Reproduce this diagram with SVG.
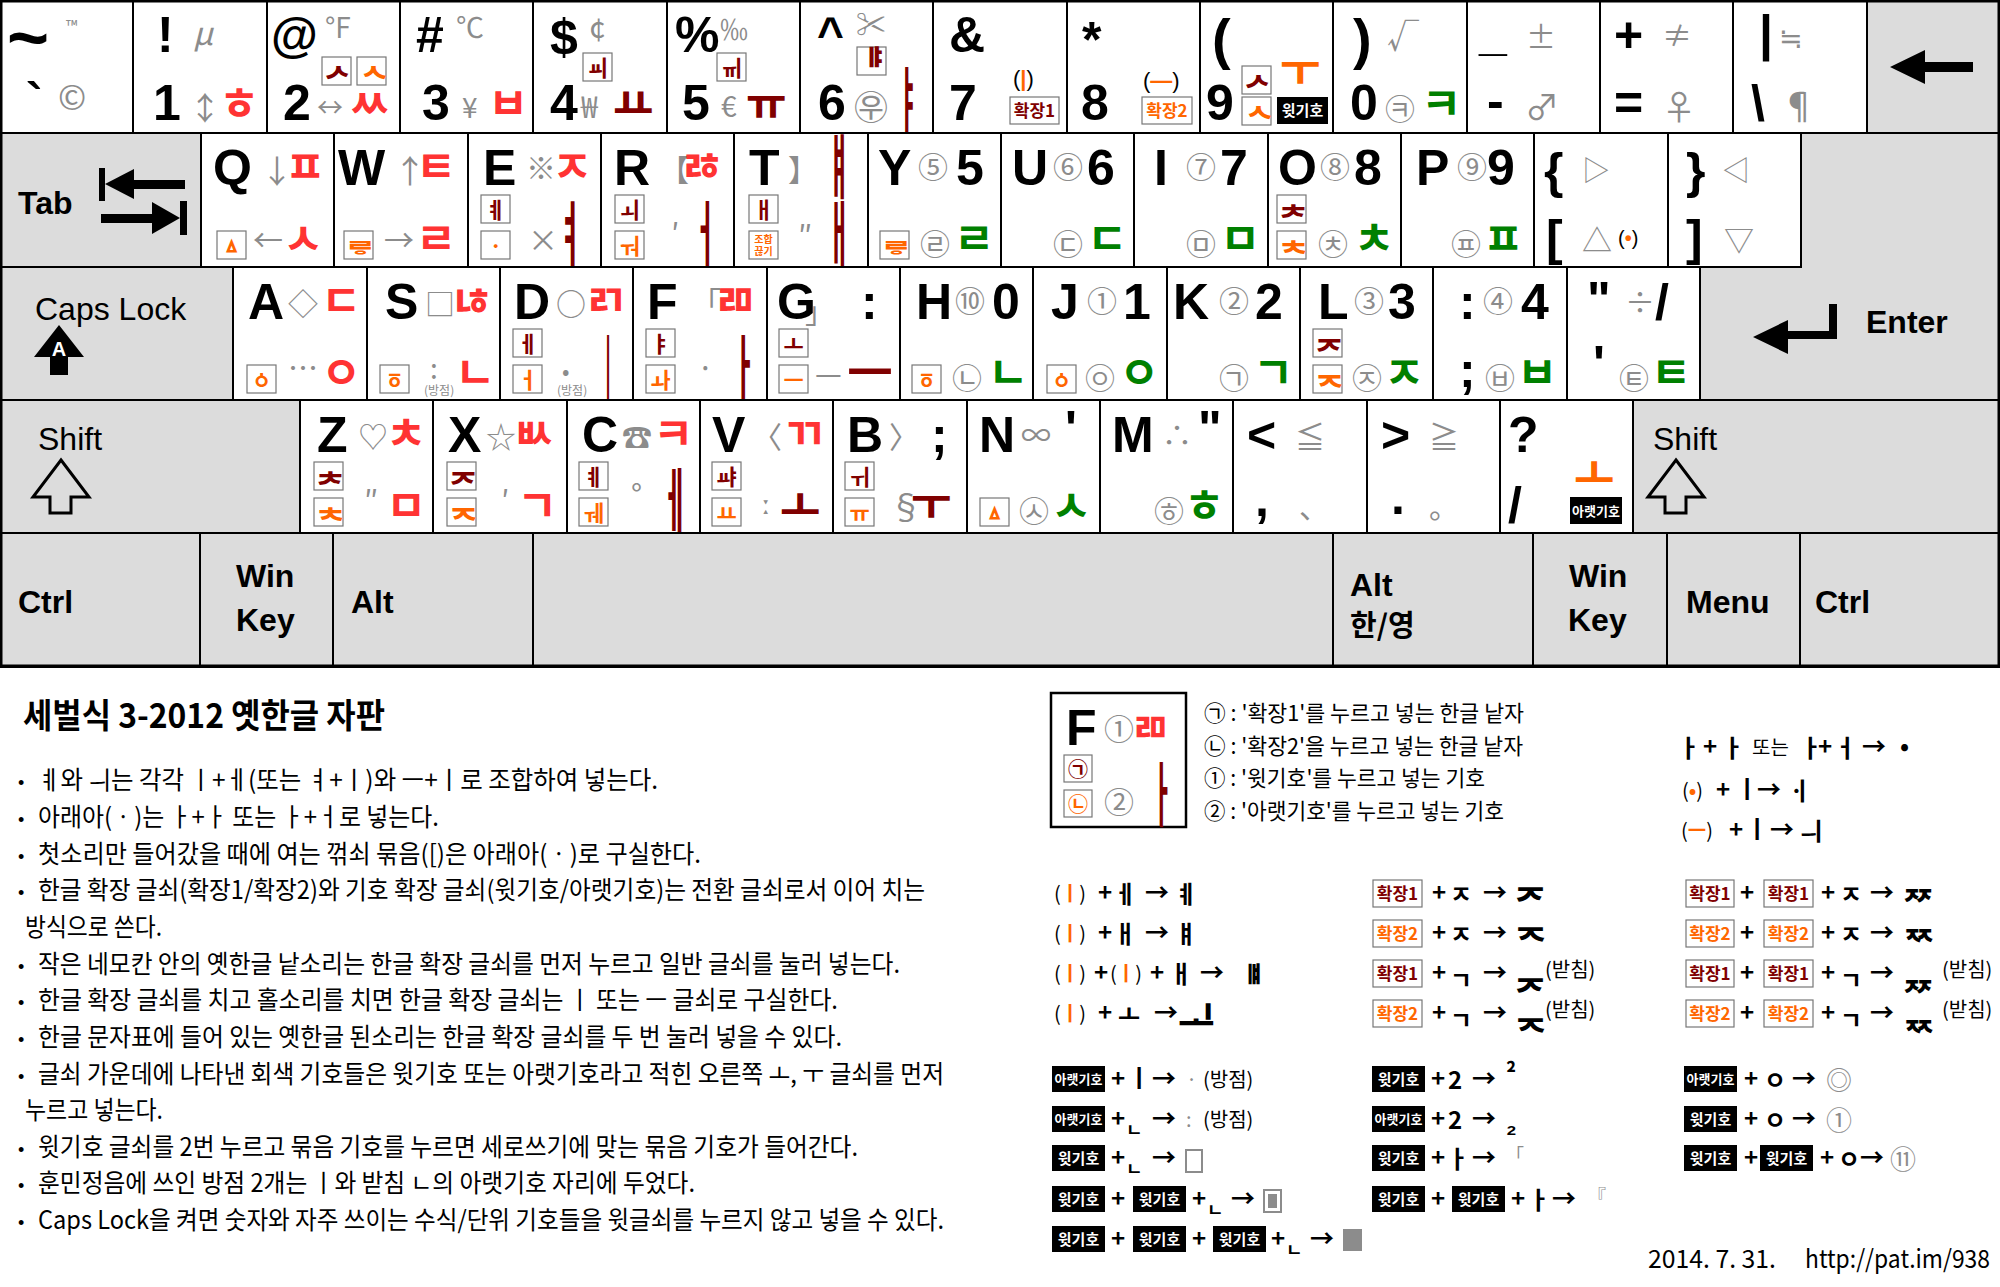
<svg xmlns="http://www.w3.org/2000/svg" width="2000" height="1287" viewBox="0 0 2000 1287">
<style>
text{font-family:"Liberation Sans","Noto Sans CJK KR",sans-serif}
.k{fill:#fff;stroke:#000;stroke-width:2}
.gk{fill:#dcdcdc;stroke:#000;stroke-width:2}
.B{font-size:50px;font-weight:bold;fill:#000}
.S{font-size:30px;fill:#8c8c8c;font-family:"Noto Sans CJK KR","DejaVu Sans",sans-serif}
.C{font-size:30px;fill:#8c8c8c;font-family:"Noto Sans CJK KR",sans-serif}
.J{font-size:44px;font-weight:bold;font-family:"Noto Sans CJK KR",sans-serif}
.T{font-size:70px;font-weight:bold;font-family:"Noto Sans CJK KR",sans-serif}
.r{fill:#ff3333}
.d{fill:#800000}
.g{fill:#008000}
.o{fill:#ff6600}
.w{fill:#fff}
.X{fill:#fff;stroke:#777;stroke-width:1.2}
.XJ{font-size:22px;font-weight:bold;font-family:"Noto Sans CJK KR",sans-serif;text-anchor:middle}
.XL{font-size:32px;font-weight:bold;font-family:"Noto Sans CJK KR",sans-serif;text-anchor:middle}
.XV{font-size:40px;font-weight:bold;font-family:"Noto Sans CJK KR",sans-serif;text-anchor:middle}
.lab{font-size:32px;font-weight:bold;fill:#000}
.lab2{font-size:32px;fill:#000}
.bk{fill:#000}
.bt{font-size:15px;font-weight:bold;fill:#fff;font-family:"Noto Sans CJK KR",sans-serif;text-anchor:middle}
.bt4{font-size:13px;font-weight:bold;fill:#fff;font-family:"Noto Sans CJK KR",sans-serif;text-anchor:middle}
.et{font-size:17px;font-weight:bold;font-family:"Noto Sans CJK KR",sans-serif;text-anchor:middle}
.P{font-size:22px;fill:#000}
.t{font-size:25px;fill:#000;font-family:"Noto Sans CJK KR",sans-serif}
.bl{font-size:18px;fill:#000}
.F{font-size:24px;font-weight:bold;fill:#000;font-family:"Noto Sans CJK KR",sans-serif}
.Fn{font-size:20px;fill:#000;font-family:"Noto Sans CJK KR",sans-serif}
.FC{font-size:36px;font-weight:bold;fill:#000;font-family:"Noto Sans CJK KR",sans-serif}
.FV{font-size:40px;font-weight:bold;fill:#000;font-family:"Noto Sans CJK KR",sans-serif}
.small{font-size:12px;fill:#8c8c8c;font-family:"Noto Sans CJK KR",sans-serif}
</style>

<!-- Row 1 -->
<g id="key-grave"><rect class="k" x="0" y="0" width="133" height="133"/>
<text class="B" x="7" y="62" style="font-size:72px">~</text><text class="S" x="66" y="32" style="font-size:16px">™</text>
<text class="B" x="26" y="118">`</text><text class="S" x="58" y="110" style="font-size:34px">©</text></g>
<g id="key-1" transform="translate(133,0)"><rect class="k" x="0" y="0" width="134" height="133"/>
<text class="B" x="24" y="52">!</text><text class="S" x="60" y="45" style="font-size:32px;font-style:italic">μ</text>
<text class="B" x="20" y="120">1</text><text class="S" x="56" y="120" style="font-size:32px">↕</text><text class="J r" x="86" y="120">ㅎ</text></g>
<g id="key-2" transform="translate(267,0)"><rect class="k" x="0" y="0" width="133" height="133"/>
<text class="B" x="4" y="52" style="font-size:48px">@</text><text class="S" x="58" y="38" style="font-size:28px">°F</text>
<rect class="X" x="55" y="57" width="29" height="28"/><text class="XL d" x="71.5" y="91.6">ᄼ</text>
<rect class="X" x="90" y="57" width="29" height="28"/><text class="XL o" x="106.5" y="91.6">ᄾ</text>
<text class="B" x="16" y="120">2</text><text class="S" x="50" y="117" style="font-size:26px">↔</text><text class="J r" x="82" y="120">ㅆ</text></g>
<g id="key-3" transform="translate(400,0)"><rect class="k" x="0" y="0" width="133" height="133"/>
<text class="B" x="16" y="52">#</text><text class="S" x="56" y="38" style="font-size:28px">℃</text>
<text class="B" x="22" y="120">3</text><text class="S" x="62" y="118" style="font-size:28px">¥</text><text class="J r" x="88" y="120">ㅂ</text></g>
<g id="key-4" transform="translate(533,0)"><rect class="k" x="0" y="0" width="134" height="133"/>
<text class="B" x="17" y="54">$</text><text class="S" x="56" y="40">¢</text>
<rect class="X" x="50" y="53" width="29" height="28"/><text class="XJ d" x="64.5" y="76">ㆉ</text>
<text class="B" x="17" y="120">4</text><text class="S" x="48" y="118">₩</text><text class="J d" x="80" y="120">ㅛ</text></g>
<g id="key-5" transform="translate(667,0)"><rect class="k" x="0" y="0" width="133" height="133"/>
<text class="B" x="8" y="52">%</text><text class="S" x="53" y="40" style="font-size:28px">‰</text>
<rect class="X" x="50" y="53" width="29" height="28"/><text class="XJ d" x="64.5" y="76">ㆌ</text>
<text class="B" x="15" y="120">5</text><text class="S" x="54" y="117" style="font-size:28px">€</text><text class="J d" x="79" y="120">ㅠ</text></g>
<g id="key-6" transform="translate(800,0)"><rect class="k" x="0" y="0" width="133" height="133"/>
<text class="B" x="17" y="50" style="font-size:46px">^</text><text class="S" x="56" y="35">✂</text>
<rect class="X" x="57" y="47" width="29" height="28"/><text class="XV d" x="65" y="80">ᆙ</text>
<text class="B" x="18" y="120">6</text><text class="C" x="54" y="120" style="font-size:34px">㉾</text><text class="T d" x="97" y="126" textLength="22" lengthAdjust="spacingAndGlyphs">ㅑ</text></g>
<g id="key-7" transform="translate(933,0)"><rect class="k" x="0" y="0" width="134" height="133"/>
<text class="B" x="16" y="52">&amp;</text><text class="B" x="16" y="120">7</text>
<text class="P" x="80" y="86">(<tspan class="o" font-weight="bold">|</tspan>)</text>
<rect class="X" x="77" y="97" width="49" height="27"/><text class="et d" x="101.5" y="117">확장1</text></g>
<g id="key-8" transform="translate(1067,0)"><rect class="k" x="0" y="0" width="133" height="133"/>
<text class="B" x="15" y="57">*</text><text class="B" x="14" y="120">8</text>
<text class="P" x="76" y="88">(<tspan class="o" font-weight="bold">—</tspan>)</text>
<rect class="X" x="75" y="97" width="50" height="27"/><text class="et o" x="100" y="117">확장2</text></g>
<g id="key-9" transform="translate(1200,0)"><rect class="k" x="0" y="0" width="133" height="133"/>
<text class="B" x="12" y="58" style="font-size:56px">(</text><text class="B" x="6" y="120">9</text>
<rect class="X" x="42" y="66" width="29" height="28"/><text class="XL d" x="58.5" y="100.6">ᄼ</text>
<rect class="X" x="42" y="97" width="29" height="28"/><text class="XL o" x="58.5" y="131.6">ᄾ</text>
<text class="J o" x="80" y="86">ㅜ</text>
<rect class="bk" x="77" y="97" width="51" height="27"/><text class="bt" x="102.5" y="116">윗기호</text></g>
<g id="key-0" transform="translate(1333,0)"><rect class="k" x="0" y="0" width="134" height="133"/>
<text class="B" x="20" y="58" style="font-size:56px">)</text><text class="S" x="54" y="48" style="font-size:32px">√</text>
<text class="B" x="17" y="120">0</text><text class="C" x="52" y="120">㉪</text><text class="J g" x="88" y="120">ㅋ</text></g>
<g id="key-minus" transform="translate(1467,0)"><rect class="k" x="0" y="0" width="133" height="133"/>
<text class="B" x="12" y="50">_</text><text class="S" x="59" y="48">±</text>
<text class="B" x="20" y="118">-</text><text class="S" x="58" y="120" style="font-size:34px">♂</text></g>
<g id="key-equal" transform="translate(1600,0)"><rect class="k" x="0" y="0" width="133" height="133"/>
<text class="B" x="14" y="52">+</text><text class="S" x="62" y="46">≠</text>
<text class="B" x="14" y="120">=</text><text class="S" x="62" y="120" style="font-size:34px">♀</text></g>
<g id="key-backslash" transform="translate(1733,0)"><rect class="k" x="0" y="0" width="134" height="133"/>
<text class="B" x="26" y="50">|</text><text class="S" x="46" y="48" style="font-size:28px">≒</text>
<text class="B" x="18" y="120">\</text><text class="S" x="48" y="120" style="font-size:36px">¶</text></g>
<g id="key-backspace" transform="translate(1867,0)"><rect class="gk" x="0" y="0" width="133" height="133"/>
<polygon points="23,67 58,50 58,62 106,62 106,72 58,72 58,84" fill="#000"/></g>

<!-- Row 2 -->
<g id="key-tab" transform="translate(0,133)"><rect class="gk" x="0" y="0" width="201" height="134"/>
<text class="lab" x="18" y="81">Tab</text>
<rect x="99" y="35" width="6" height="33" fill="#000"/><polygon points="105,51 134,36 134,66" fill="#000"/><rect x="132" y="47" width="53" height="9" fill="#000"/>
<rect x="101" y="81" width="55" height="9" fill="#000"/><polygon points="180,85 152,69 152,101" fill="#000"/><rect x="180" y="68" width="7" height="34" fill="#000"/></g>
<g id="key-q" transform="translate(201,133)"><rect class="k" x="0" y="0" width="133" height="134"/>
<text class="B" x="12" y="52">Q</text><text class="S" x="60" y="50" style="font-size:32px">↓</text><text class="J r" x="84" y="50">ㅍ</text>
<rect class="X" x="16" y="98" width="29" height="28"/><text class="XJ o" x="30.5" y="121">ㅿ</text>
<text class="S" x="52" y="118">←</text><text class="J r" x="82" y="122">ㅅ</text></g>
<g id="key-w" transform="translate(334,133)"><rect class="k" x="0" y="0" width="134" height="134"/>
<text class="B" x="4" y="52">W</text><text class="S" x="60" y="50" style="font-size:32px">↑</text><text class="J r" x="82" y="50">ㅌ</text>
<rect class="X" x="10" y="98" width="29" height="28"/><text class="XL o" x="26.5" y="132.6">ᄛ</text>
<text class="S" x="50" y="118">→</text><text class="J r" x="82" y="122">ㄹ</text></g>
<g id="key-e" transform="translate(468,133)"><rect class="k" x="0" y="0" width="133" height="134"/>
<text class="B" x="15" y="52">E</text><text class="S" x="58" y="46">※</text><text class="J r" x="84" y="50">ㅈ</text>
<rect class="X" x="13" y="62" width="29" height="28"/><text class="XJ d" x="27.5" y="85">ㅖ</text>
<rect class="X" x="13" y="98" width="29" height="28"/><text class="XJ o" x="27.5" y="121">ㆍ</text>
<text class="S" x="60" y="118">×</text><text class="T d" x="89" y="127" textLength="26" lengthAdjust="spacingAndGlyphs">ㅕ</text></g>
<g id="key-r" transform="translate(601,133)"><rect class="k" x="0" y="0" width="133" height="134"/>
<text class="B" x="13" y="52">R</text><text class="S" x="58" y="48">【</text><text class="J r" x="80" y="50">ㅀ</text>
<rect class="X" x="14" y="62" width="29" height="28"/><text class="XJ d" x="28.5" y="85">ㅚ</text>
<rect class="X" x="14" y="98" width="29" height="28"/><text class="XJ o" x="28.5" y="121">ㅝ</text>
<text class="S" x="70" y="112">′</text><text class="T d" x="92" y="127" textLength="24" lengthAdjust="spacingAndGlyphs">ㅓ</text></g>
<g id="key-t" transform="translate(734,133)"><rect class="k" x="0" y="0" width="134" height="134"/>
<text class="B" x="15" y="52">T</text><text class="S" x="54" y="48">】</text>
<text class="T d" x="93" y="60" textLength="24" lengthAdjust="spacingAndGlyphs">ㅒ</text>
<rect class="X" x="15" y="62" width="29" height="28"/><text class="XJ d" x="29.5" y="85">ㅐ</text>
<rect class="X" x="15" y="98" width="29" height="28"/><text class="XJ o" x="29.5" y="110" style="font-size:10px">조합</text><text class="XJ o" x="29.5" y="122" style="font-size:10px">끊기</text>
<text class="S" x="64" y="114">″</text><text class="T d" x="93" y="127" textLength="24" lengthAdjust="spacingAndGlyphs">ㅐ</text></g>
<g id="key-y" transform="translate(868,133)"><rect class="k" x="0" y="0" width="133" height="134"/>
<text class="B" x="10" y="52">Y</text><text class="C" x="50" y="45">⑤</text><text class="B" x="88" y="52">5</text>
<rect class="X" x="12" y="98" width="29" height="28"/><text class="XL o" x="28.5" y="132.6">ᄛ</text>
<text class="C" x="52" y="122">㉣</text><text class="J g" x="86" y="122">ㄹ</text></g>
<g id="key-u" transform="translate(1001,133)"><rect class="k" x="0" y="0" width="133" height="134"/>
<text class="B" x="11" y="52">U</text><text class="C" x="52" y="45">⑥</text><text class="B" x="86" y="52">6</text>
<text class="C" x="52" y="122">㉢</text><text class="J g" x="86" y="122">ㄷ</text></g>
<g id="key-i" transform="translate(1134,133)"><rect class="k" x="0" y="0" width="134" height="134"/>
<text class="B" x="20" y="52">I</text><text class="C" x="52" y="45">⑦</text><text class="B" x="86" y="52">7</text>
<text class="C" x="52" y="122">㉤</text><text class="J g" x="86" y="122">ㅁ</text></g>
<g id="key-o" transform="translate(1268,133)"><rect class="k" x="0" y="0" width="133" height="134"/>
<text class="B" x="10" y="52">O</text><text class="C" x="52" y="45">⑧</text><text class="B" x="86" y="52">8</text>
<rect class="X" x="9" y="62" width="29" height="28"/><text class="XL d" x="25.5" y="96.6">ᅔ</text>
<rect class="X" x="9" y="98" width="29" height="28"/><text class="XL o" x="25.5" y="132.6">ᅕ</text>
<text class="C" x="50" y="122">㉩</text><text class="J g" x="86" y="122">ㅊ</text></g>
<g id="key-p" transform="translate(1401,133)"><rect class="k" x="0" y="0" width="133" height="134"/>
<text class="B" x="15" y="52">P</text><text class="C" x="56" y="45">⑨</text><text class="B" x="86" y="52">9</text>
<text class="C" x="50" y="122">㉬</text><text class="J g" x="82" y="122">ㅍ</text></g>
<g id="key-lbrace" transform="translate(1534,133)"><rect class="k" x="0" y="0" width="134" height="134"/>
<text class="B" x="10" y="55">{</text><text class="S" x="48" y="48" style="font-size:28px">▷</text>
<text class="B" x="12" y="122">[</text><text class="S" x="48" y="118">△</text>
<text class="P" x="84" y="112" style="font-size:20px">(<tspan class="o" font-weight="bold">•</tspan>)</text></g>
<g id="key-rbrace" transform="translate(1668,133)"><rect class="k" x="0" y="0" width="133" height="134"/>
<text class="B" x="18" y="55">}</text><text class="S" x="54" y="48" style="font-size:28px">◁</text>
<text class="B" x="18" y="122">]</text><text class="S" x="56" y="118">▽</text></g>
<g id="key-enter"><path class="gk" d="M1801,133 H2000 V400 H1700 V267 H1801 Z"/>
<polygon points="1753,337 1788,320 1788,331 1829,331 1829,304 1837,304 1837,339 1788,339 1788,354" fill="#000"/>
<text class="lab" x="1866" y="333">Enter</text></g>

<!-- Row 3 -->
<g id="key-caps" transform="translate(0,267)"><rect class="gk" x="0" y="0" width="233" height="133"/>
<text class="lab2" x="35" y="53">Caps Lock</text>
<polygon points="59,58 84,90 68,90 68,108 50,108 50,90 34,90" fill="#000"/>
<text x="59" y="89" class="w" text-anchor="middle" style="font-size:20px;font-weight:bold">A</text></g>
<g id="key-a" transform="translate(233,267)"><rect class="k" x="0" y="0" width="134" height="133"/>
<text class="B" x="15" y="52">A</text><text class="S" x="55" y="48">◇</text><text class="J r" x="88" y="50">ㄷ</text>
<rect class="X" x="14" y="98" width="29" height="28"/><text class="XJ o" x="28.5" y="121">ㆁ</text>
<text class="S" x="55" y="112">⋯</text><text class="J r" x="88" y="122">ㅇ</text></g>
<g id="key-s" transform="translate(367,267)"><rect class="k" x="0" y="0" width="133" height="133"/>
<text class="B" x="18" y="52">S</text><text class="S" x="58" y="48">□</text><text class="J r" x="85" y="50">ㄶ</text>
<rect class="X" x="13" y="98" width="29" height="28"/><text class="XJ o" x="27.5" y="121">ㆆ</text>
<text class="S" x="63" y="112" style="font-size:28px">:</text><text class="small" x="57" y="128">(방점)</text><text class="J r" x="88" y="122">ㄴ</text></g>
<g id="key-d" transform="translate(500,267)"><rect class="k" x="0" y="0" width="133" height="133"/>
<text class="B" x="14" y="52">D</text><text class="S" x="56" y="48">○</text><text class="J r" x="86" y="50">ㄺ</text>
<rect class="X" x="13" y="62" width="29" height="28"/><text class="XJ d" x="27.5" y="85">ㅔ</text>
<rect class="X" x="13" y="98" width="29" height="28"/><text class="XJ o" x="27.5" y="121">ㅓ</text>
<text class="S" x="62" y="112" style="font-size:22px">•</text><text class="small" x="57" y="128">(방점)</text>
<text class="T d" x="101" y="127" textLength="14" lengthAdjust="spacingAndGlyphs">ㅣ</text></g>
<g id="key-f" transform="translate(633,267)"><rect class="k" x="0" y="0" width="134" height="133"/>
<text class="B" x="14" y="52">F</text><text class="S" x="58" y="46">「</text><text class="J r" x="82" y="50">ㄻ</text>
<rect class="X" x="13" y="62" width="29" height="28"/><text class="XJ d" x="27.5" y="85">ㅑ</text>
<rect class="X" x="13" y="98" width="29" height="28"/><text class="XJ o" x="27.5" y="121">ㅘ</text>
<text class="S" x="64" y="112">·</text><text class="T d" x="99" y="127" textLength="24" lengthAdjust="spacingAndGlyphs">ㅏ</text></g>
<g id="key-g" transform="translate(767,267)"><rect class="k" x="0" y="0" width="133" height="133"/>
<text class="B" x="10" y="52">G</text><text class="S" x="38" y="56">」</text><text class="B" x="94" y="52">:</text>
<rect class="X" x="12" y="62" width="29" height="28"/><text class="XJ d" x="26.5" y="85">ㅗ</text>
<rect class="X" x="12" y="98" width="29" height="28"/><text class="XJ o" x="26.5" y="121">ㅡ</text>
<text class="S" x="48" y="117">—</text><text class="J d" x="80" y="124" style="font-size:50px">ㅡ</text></g>
<g id="key-h" transform="translate(900,267)"><rect class="k" x="0" y="0" width="133" height="133"/>
<text class="B" x="16" y="52">H</text><text class="C" x="55" y="45">⑩</text><text class="B" x="92" y="52">0</text>
<rect class="X" x="12" y="98" width="29" height="28"/><text class="XJ o" x="26.5" y="121">ㆆ</text>
<text class="C" x="52" y="122">㉡</text><text class="J g" x="88" y="122">ㄴ</text></g>
<g id="key-j" transform="translate(1033,267)"><rect class="k" x="0" y="0" width="134" height="133"/>
<text class="B" x="18" y="52">J</text><text class="C" x="54" y="45">①</text><text class="B" x="90" y="52">1</text>
<rect class="X" x="14" y="98" width="29" height="28"/><text class="XJ o" x="28.5" y="121">ㆁ</text>
<text class="C" x="52" y="122">㉧</text><text class="J g" x="86" y="122">ㅇ</text></g>
<g id="key-k" transform="translate(1167,267)"><rect class="k" x="0" y="0" width="133" height="133"/>
<text class="B" x="6" y="52">K</text><text class="C" x="52" y="45">②</text><text class="B" x="88" y="52">2</text>
<text class="C" x="52" y="122">㉠</text><text class="J g" x="86" y="122">ㄱ</text></g>
<g id="key-l" transform="translate(1300,267)"><rect class="k" x="0" y="0" width="133" height="133"/>
<text class="B" x="18" y="52">L</text><text class="C" x="54" y="45">③</text><text class="B" x="88" y="52">3</text>
<rect class="X" x="13" y="62" width="29" height="28"/><text class="XL d" x="29.5" y="96.6">ᅎ</text>
<rect class="X" x="13" y="98" width="29" height="28"/><text class="XL o" x="29.5" y="132.6">ᅐ</text>
<text class="C" x="52" y="122">㉨</text><text class="J g" x="84" y="122">ㅈ</text></g>
<g id="key-semicolon" transform="translate(1433,267)"><rect class="k" x="0" y="0" width="134" height="133"/>
<text class="B" x="26" y="52">:</text><text class="C" x="50" y="45">④</text><text class="B" x="88" y="52">4</text>
<text class="B" x="26" y="120">;</text><text class="C" x="52" y="122">㉥</text><text class="J g" x="84" y="122">ㅂ</text></g>
<g id="key-quote" transform="translate(1567,267)"><rect class="k" x="0" y="0" width="133" height="133"/>
<text class="B" x="20" y="50">"</text><text class="S" x="58" y="46">÷</text><text class="B" x="88" y="52">/</text>
<text class="B" x="26" y="114">'</text><text class="C" x="52" y="122">㉫</text><text class="J g" x="84" y="122">ㅌ</text></g>

<!-- Row 4 -->
<g id="key-lshift" transform="translate(0,400)"><rect class="gk" x="0" y="0" width="300" height="133"/>
<text class="lab2" x="38" y="50">Shift</text>
<polygon points="61,60 89,97 71,97 71,113 50,113 50,97 33,97" fill="none" stroke="#000" stroke-width="3"/></g>
<g id="key-z" transform="translate(300,400)"><rect class="k" x="0" y="0" width="133" height="133"/>
<text class="B" x="17" y="52">Z</text><text class="S" x="58" y="48">♡</text><text class="J r" x="86" y="50">ㅊ</text>
<rect class="X" x="14" y="62" width="29" height="28"/><text class="XL d" x="30.5" y="96.6">ᅔ</text>
<rect class="X" x="14" y="98" width="29" height="28"/><text class="XL o" x="30.5" y="132.6">ᅕ</text>
<text class="S" x="64" y="112">″</text><text class="J r" x="86" y="122">ㅁ</text></g>
<g id="key-x" transform="translate(433,400)"><rect class="k" x="0" y="0" width="134" height="133"/>
<text class="B" x="15" y="52">X</text><text class="S" x="53" y="48">☆</text><text class="J r" x="80" y="50">ㅄ</text>
<rect class="X" x="14" y="62" width="29" height="28"/><text class="XL d" x="30.5" y="96.6">ᅎ</text>
<rect class="X" x="14" y="98" width="29" height="28"/><text class="XL o" x="30.5" y="132.6">ᅐ</text>
<text class="S" x="68" y="112">′</text><text class="J r" x="84" y="122">ㄱ</text></g>
<g id="key-c" transform="translate(567,400)"><rect class="k" x="0" y="0" width="133" height="133"/>
<text class="B" x="15" y="52">C</text><text class="S" x="55" y="48">☎</text><text class="J r" x="86" y="50">ㅋ</text>
<rect class="X" x="12" y="62" width="29" height="28"/><text class="XJ d" x="26.5" y="85">ㅖ</text>
<rect class="X" x="12" y="98" width="29" height="28"/><text class="XJ o" x="26.5" y="121">ㅞ</text>
<text class="S" x="64" y="106">°</text><text class="T d" x="95" y="127" textLength="26" lengthAdjust="spacingAndGlyphs">ㅔ</text></g>
<g id="key-v" transform="translate(700,400)"><rect class="k" x="0" y="0" width="133" height="133"/>
<text class="B" x="12" y="52">V</text><text class="S" x="52" y="48">〈</text><text class="J r" x="84" y="50">ㄲ</text>
<rect class="X" x="12" y="62" width="29" height="28"/><text class="XJ d" x="26.5" y="85">ㆇ</text>
<rect class="X" x="12" y="98" width="29" height="28"/><text class="XJ o" x="26.5" y="121">ㅛ</text>
<text class="S" x="62" y="114" style="font-size:26px">ː</text><text class="J d" x="80" y="122">ㅗ</text></g>
<g id="key-b" transform="translate(833,400)"><rect class="k" x="0" y="0" width="134" height="133"/>
<text class="B" x="14" y="52">B</text><text class="S" x="56" y="48">〉</text><text class="B" x="98" y="52">;</text>
<rect class="X" x="12" y="62" width="29" height="28"/><text class="XJ d" x="26.5" y="85">ㅟ</text>
<rect class="X" x="12" y="98" width="29" height="28"/><text class="XJ o" x="26.5" y="121">ㅠ</text>
<text class="S" x="56" y="120" style="font-size:34px">§</text><text class="J d" x="78" y="120">ㅜ</text></g>
<g id="key-n" transform="translate(967,400)"><rect class="k" x="0" y="0" width="133" height="133"/>
<text class="B" x="12" y="52">N</text><text class="S" x="54" y="46">∞</text><text class="B" x="98" y="46">'</text>
<rect class="X" x="13" y="98" width="29" height="28"/><text class="XJ o" x="27.5" y="121">ㅿ</text>
<text class="C" x="52" y="122">㉦</text><text class="J g" x="84" y="122">ㅅ</text></g>
<g id="key-m" transform="translate(1100,400)"><rect class="k" x="0" y="0" width="133" height="133"/>
<text class="B" x="12" y="52">M</text><text class="S" x="62" y="46">∴</text><text class="B" x="98" y="46">"</text>
<text class="C" x="54" y="122">㉭</text><text class="J g" x="84" y="122">ㅎ</text></g>
<g id="key-comma" transform="translate(1233,400)"><rect class="k" x="0" y="0" width="134" height="133"/>
<text class="B" x="14" y="52">&lt;</text><text class="S" x="62" y="48">≦</text>
<text class="B" x="22" y="116">,</text><text class="S" x="66" y="118">、</text></g>
<g id="key-period" transform="translate(1367,400)"><rect class="k" x="0" y="0" width="133" height="133"/>
<text class="B" x="14" y="52">&gt;</text><text class="S" x="62" y="48">≧</text>
<text class="B" x="24" y="114">.</text><text class="S" x="62" y="118">。</text></g>
<g id="key-slash" transform="translate(1500,400)"><rect class="k" x="0" y="0" width="133" height="133"/>
<text class="B" x="8" y="52">?</text><text class="B" x="8" y="122">/</text>
<text class="J o" x="74" y="90">ㅗ</text>
<rect class="bk" x="70" y="97" width="52" height="27"/><text class="bt4" x="96" y="116">아랫기호</text></g>
<g id="key-rshift" transform="translate(1633,400)"><rect class="gk" x="0" y="0" width="367" height="133"/>
<text class="lab2" x="20" y="50">Shift</text>
<polygon points="43,60 71,97 53,97 53,113 32,113 32,97 15,97" fill="none" stroke="#000" stroke-width="3"/></g>

<!-- Row 5 -->
<g id="key-lctrl"><rect class="gk" x="0" y="533" width="200" height="134"/><text class="lab" x="18" y="613">Ctrl</text></g>
<g id="key-lwin"><rect class="gk" x="200" y="533" width="133" height="134"/><text class="lab" x="236" y="587">Win</text><text class="lab" x="236" y="631">Key</text></g>
<g id="key-lalt"><rect class="gk" x="333" y="533" width="200" height="134"/><text class="lab" x="351" y="613">Alt</text></g>
<g id="key-space"><rect class="gk" x="533" y="533" width="800" height="134"/></g>
<g id="key-ralt"><rect class="gk" x="1333" y="533" width="200" height="134"/><text class="lab" x="1350" y="596">Alt</text><text class="lab" x="1350" y="636" style="font-family:'Noto Sans CJK KR',sans-serif;font-size:29px">한/영</text></g>
<g id="key-rwin"><rect class="gk" x="1533" y="533" width="134" height="134"/><text class="lab" x="1569" y="587">Win</text><text class="lab" x="1568" y="631">Key</text></g>
<g id="key-menu"><rect class="gk" x="1667" y="533" width="133" height="134"/><text class="lab" x="1686" y="613">Menu</text></g>
<g id="key-rctrl"><rect class="gk" x="1800" y="533" width="200" height="134"/><text class="lab" x="1815" y="613">Ctrl</text></g>
<rect x="1" y="1" width="1998" height="665" fill="none" stroke="#000" stroke-width="3"/>

<!-- Notes -->
<g id="notes">
<text x="23" y="728" style="font-size:34px;font-weight:bold;font-family:'Noto Sans CJK KR',sans-serif" textLength="362" lengthAdjust="spacingAndGlyphs">세벌식 3-2012 옛한글 자판</text>
<text class="bl" x="18" y="789">•</text><text class="t" x="38" y="789" textLength="620" lengthAdjust="spacingAndGlyphs">ㅖ와 ㅢ는 각각 ㅣ+ㅔ(또는 ㅕ+ㅣ)와 ㅡ+ㅣ로 조합하여 넣는다.</text>
<text class="bl" x="18" y="826">•</text><text class="t" x="38" y="826" textLength="401" lengthAdjust="spacingAndGlyphs">아래아(ㆍ)는 ㅏ+ㅏ 또는 ㅏ+ㅓ로 넣는다.</text>
<text class="bl" x="18" y="863">•</text><text class="t" x="38" y="863" textLength="663" lengthAdjust="spacingAndGlyphs">첫소리만 들어갔을 때에 여는 꺾쇠 묶음([)은 아래아(ㆍ)로 구실한다.</text>
<text class="bl" x="18" y="899">•</text><text class="t" x="38" y="899" textLength="887" lengthAdjust="spacingAndGlyphs">한글 확장 글쇠(확장1/확장2)와 기호 확장 글쇠(윗기호/아랫기호)는 전환 글쇠로서 이어 치는</text>
<text class="t" x="25" y="936" textLength="137" lengthAdjust="spacingAndGlyphs">방식으로 쓴다.</text>
<text class="bl" x="18" y="973">•</text><text class="t" x="38" y="973" textLength="862" lengthAdjust="spacingAndGlyphs">작은 네모칸 안의 옛한글 낱소리는 한글 확장 글쇠를 먼저 누르고 일반 글쇠를 눌러 넣는다.</text>
<text class="bl" x="18" y="1009">•</text><text class="t" x="38" y="1009" textLength="800" lengthAdjust="spacingAndGlyphs">한글 확장 글쇠를 치고 홀소리를 치면 한글 확장 글쇠는 ㅣ 또는 ㅡ 글쇠로 구실한다.</text>
<text class="bl" x="18" y="1046">•</text><text class="t" x="38" y="1046" textLength="804" lengthAdjust="spacingAndGlyphs">한글 문자표에 들어 있는 옛한글 된소리는 한글 확장 글쇠를 두 번 눌러 넣을 수 있다.</text>
<text class="bl" x="18" y="1083">•</text><text class="t" x="38" y="1083" textLength="906" lengthAdjust="spacingAndGlyphs">글쇠 가운데에 나타낸 회색 기호들은 윗기호 또는 아랫기호라고 적힌 오른쪽 ㅗ, ㅜ 글쇠를 먼저</text>
<text class="t" x="25" y="1119" textLength="138" lengthAdjust="spacingAndGlyphs">누르고 넣는다.</text>
<text class="bl" x="18" y="1156">•</text><text class="t" x="38" y="1156" textLength="820" lengthAdjust="spacingAndGlyphs">윗기호 글쇠를 2번 누르고 묶음 기호를 누르면 세로쓰기에 맞는 묶음 기호가 들어간다.</text>
<text class="bl" x="18" y="1192">•</text><text class="t" x="38" y="1192" textLength="657" lengthAdjust="spacingAndGlyphs">훈민정음에 쓰인 방점 2개는 ㅣ와 받침 ㄴ의 아랫기호 자리에 두었다.</text>
<text class="bl" x="18" y="1229">•</text><text class="t" x="38" y="1229" textLength="906" lengthAdjust="spacingAndGlyphs">Caps Lock을 켜면 숫자와 자주 쓰이는 수식/단위 기호들을 윗글쇠를 누르지 않고 넣을 수 있다.</text>
<text class="t" x="1648" y="1268" textLength="128" lengthAdjust="spacingAndGlyphs">2014. 7. 31.</text>
<text class="t" x="1805" y="1268" textLength="185" lengthAdjust="spacingAndGlyphs">http://pat.im/938</text>
</g>

<!-- Legend -->
<g id="legend">
<rect x="1051" y="693" width="135" height="134" fill="#fff" stroke="#000" stroke-width="2.5"/>
<text class="B" x="1066" y="745">F</text><text class="C" x="1104" y="740">①</text><text class="J r" x="1132" y="742" style="font-size:40px">ㄻ</text>
<rect class="X" x="1064" y="755" width="28" height="27"/><text class="XJ d" x="1078" y="777" style="font-size:20px">㉠</text>
<rect class="X" x="1064" y="790" width="28" height="27"/><text class="XJ o" x="1078" y="812" style="font-size:20px">㉡</text>
<text class="C" x="1104" y="813">②</text><text class="T d" x="1151" y="821" textLength="22" lengthAdjust="spacingAndGlyphs">ㅏ</text>
<text class="t" x="1204" y="721" style="font-size:22px" textLength="320" lengthAdjust="spacingAndGlyphs">㉠ : '확장1'를 누르고 넣는 한글 낱자</text>
<text class="t" x="1204" y="754" style="font-size:22px" textLength="319" lengthAdjust="spacingAndGlyphs">㉡ : '확장2'을 누르고 넣는 한글 낱자</text>
<text class="t" x="1204" y="786" style="font-size:22px" textLength="281" lengthAdjust="spacingAndGlyphs">① : '윗기호'를 누르고 넣는 기호</text>
<text class="t" x="1204" y="819" style="font-size:22px" textLength="300" lengthAdjust="spacingAndGlyphs">② : '아랫기호'를 누르고 넣는 기호</text>
</g>

<!-- Formulas -->
<g id="formulas">
<text class="F d" x="1678" y="757">ㅏ</text><text class="F" x="1703" y="755">+</text><text class="F d" x="1722" y="757">ㅏ</text><text class="Fn" x="1752" y="755">또는</text><text class="F d" x="1800" y="757">ㅏ</text><text class="F" x="1818" y="755">+</text><text class="F d" x="1834" y="757">ㅓ</text><text class="F" x="1862" y="755">→</text><text class="F" x="1900" y="755">•</text>
<text class="Fn" x="1682" y="798">(<tspan class="o" font-weight="bold">•</tspan>)</text><text class="F" x="1716" y="798">+</text><text class="F d" x="1736" y="798">ㅣ</text><text class="F" x="1757" y="798">→</text><text class="F" x="1788" y="800">ㆎ</text>
<text class="Fn" x="1681" y="838">(<tspan class="o" font-weight="bold">ㅡ</tspan>)</text><text class="F" x="1729" y="838">+</text><text class="F d" x="1746" y="838">ㅣ</text><text class="F" x="1770" y="838">→</text><text class="F" x="1800" y="840">ㅢ</text>

<text class="Fn" x="1054" y="901">(<tspan class="o" font-weight="bold">ㅣ</tspan>)</text><text class="F" x="1098" y="901">+</text><text class="F d" x="1114" y="903">ㅔ</text><text class="F" x="1145" y="901">→</text><text class="F" x="1175" y="903">ㅖ</text>
<text class="Fn" x="1054" y="941">(<tspan class="o" font-weight="bold">ㅣ</tspan>)</text><text class="F" x="1098" y="941">+</text><text class="F d" x="1114" y="943">ㅐ</text><text class="F" x="1145" y="941">→</text><text class="F" x="1175" y="943">ㅒ</text>
<text class="Fn" x="1054" y="981">(<tspan class="o" font-weight="bold">ㅣ</tspan>)</text><text class="F" x="1094" y="981">+</text><text class="Fn" x="1110" y="981">(<tspan class="o" font-weight="bold">ㅣ</tspan>)</text><text class="F" x="1150" y="981">+</text><text class="F d" x="1170" y="983">ㅐ</text><text class="F" x="1200" y="981">→</text><text class="FV" x="1226" y="997">ힾ</text>
<text class="Fn" x="1054" y="1021">(<tspan class="o" font-weight="bold">ㅣ</tspan>)</text><text class="F" x="1098" y="1021">+</text><text class="F d" x="1118" y="1023">ㅗ</text><text class="F" x="1154" y="1021">→</text><text class="FV" x="1178" y="1037">ᆚ</text>

<rect class="X" x="1373" y="880" width="49" height="27"/><text class="et d" x="1397.5" y="900">확장1</text><text class="F" x="1432" y="901">+</text><text class="F g" x="1450" y="903">ㅈ</text><text class="F" x="1483" y="901">→</text><text class="FC" x="1514" y="916">ᅎ</text>
<rect class="X" x="1373" y="920" width="49" height="27"/><text class="et o" x="1397.5" y="940">확장2</text><text class="F" x="1432" y="941">+</text><text class="F g" x="1450" y="943">ㅈ</text><text class="F" x="1483" y="941">→</text><text class="FC" x="1514" y="956">ᅐ</text>
<rect class="X" x="1373" y="960" width="49" height="27"/><text class="et d" x="1397.5" y="980">확장1</text><text class="F" x="1432" y="981">+</text><text class="F r" x="1450" y="989">ㄱ</text><text class="F" x="1483" y="981">→</text><text class="FC" x="1514" y="1007">ᅎ</text><text class="Fn" x="1545" y="977">(받침)</text>
<rect class="X" x="1373" y="1000" width="49" height="27"/><text class="et o" x="1397.5" y="1020">확장2</text><text class="F" x="1432" y="1021">+</text><text class="F r" x="1450" y="1029">ㄱ</text><text class="F" x="1483" y="1021">→</text><text class="FC" x="1514" y="1047">ᅐ</text><text class="Fn" x="1545" y="1017">(받침)</text>

<rect class="X" x="1686" y="880" width="48" height="27"/><text class="et d" x="1710" y="900">확장1</text><text class="F" x="1740" y="901">+</text><rect class="X" x="1764" y="880" width="49" height="27"/><text class="et d" x="1788.5" y="900">확장1</text><text class="F" x="1821" y="901">+</text><text class="F g" x="1840" y="903">ㅈ</text><text class="F" x="1870" y="901">→</text><text class="FC" x="1903" y="915" style="font-size:34px">ᅏ</text>
<rect class="X" x="1686" y="920" width="48" height="27"/><text class="et o" x="1710" y="940">확장2</text><text class="F" x="1740" y="941">+</text><rect class="X" x="1764" y="920" width="49" height="27"/><text class="et o" x="1788.5" y="940">확장2</text><text class="F" x="1821" y="941">+</text><text class="F g" x="1840" y="943">ㅈ</text><text class="F" x="1870" y="941">→</text><text class="FC" x="1903" y="955" style="font-size:34px">ᅑ</text>
<rect class="X" x="1686" y="960" width="48" height="27"/><text class="et d" x="1710" y="980">확장1</text><text class="F" x="1740" y="981">+</text><rect class="X" x="1764" y="960" width="49" height="27"/><text class="et d" x="1788.5" y="980">확장1</text><text class="F" x="1821" y="981">+</text><text class="F r" x="1840" y="989">ㄱ</text><text class="F" x="1870" y="981">→</text><text class="FC" x="1903" y="1006" style="font-size:34px">ᅏ</text><text class="Fn" x="1942" y="977">(받침)</text>
<rect class="X" x="1686" y="1000" width="48" height="27"/><text class="et o" x="1710" y="1020">확장2</text><text class="F" x="1740" y="1021">+</text><rect class="X" x="1764" y="1000" width="49" height="27"/><text class="et o" x="1788.5" y="1020">확장2</text><text class="F" x="1821" y="1021">+</text><text class="F r" x="1840" y="1029">ㄱ</text><text class="F" x="1870" y="1021">→</text><text class="FC" x="1903" y="1046" style="font-size:34px">ᅑ</text><text class="Fn" x="1942" y="1017">(받침)</text>

<rect class="bk" x="1052" y="1066" width="53" height="26"/><text class="bt4" x="1078.5" y="1084">아랫기호</text><text class="F" x="1111" y="1087">+</text><text class="F d" x="1128" y="1087">ㅣ</text><text class="F" x="1152" y="1087">→</text><text class="Fn" x="1186" y="1087" style="fill:#8c8c8c">·</text><text class="Fn" x="1203" y="1087">(방점)</text>
<rect class="bk" x="1052" y="1106" width="53" height="26"/><text class="bt4" x="1078.5" y="1124">아랫기호</text><text class="F" x="1111" y="1127">+</text><text class="F r" x="1126" y="1137" style="font-size:18px">ㄴ</text><text class="F" x="1152" y="1127">→</text><text class="Fn" x="1186" y="1127" style="fill:#8c8c8c">:</text><text class="Fn" x="1203" y="1127">(방점)</text>
<rect class="bk" x="1052" y="1145" width="53" height="26"/><text class="bt" x="1078.5" y="1164">윗기호</text><text class="F" x="1111" y="1166">+</text><text class="F r" x="1126" y="1176" style="font-size:18px">ㄴ</text><text class="F" x="1152" y="1166">→</text><rect x="1186" y="1150" width="16" height="22" fill="#fff" stroke="#8c8c8c" stroke-width="2"/>
<rect class="bk" x="1052" y="1186" width="53" height="26"/><text class="bt" x="1078.5" y="1205">윗기호</text><text class="F" x="1111" y="1207">+</text><rect class="bk" x="1133" y="1186" width="53" height="26"/><text class="bt" x="1159.5" y="1205">윗기호</text><text class="F" x="1192" y="1207">+</text><text class="F r" x="1207" y="1217" style="font-size:18px">ㄴ</text><text class="F" x="1231" y="1207">→</text><rect x="1264" y="1190" width="17" height="22" fill="#fff" stroke="#8c8c8c" stroke-width="2"/><rect x="1268" y="1194" width="9" height="14" fill="#8c8c8c"/>
<rect class="bk" x="1052" y="1226" width="53" height="26"/><text class="bt" x="1078.5" y="1245">윗기호</text><text class="F" x="1111" y="1247">+</text><rect class="bk" x="1133" y="1226" width="53" height="26"/><text class="bt" x="1159.5" y="1245">윗기호</text><text class="F" x="1192" y="1247">+</text><rect class="bk" x="1213" y="1226" width="53" height="26"/><text class="bt" x="1239.5" y="1245">윗기호</text><text class="F" x="1271" y="1247">+</text><text class="F r" x="1286" y="1257" style="font-size:18px">ㄴ</text><text class="F" x="1310" y="1247">→</text><rect x="1343" y="1229" width="19" height="22" fill="#8c8c8c"/>

<rect class="bk" x="1372" y="1066" width="53" height="26"/><text class="bt" x="1398.5" y="1085">윗기호</text><text class="F" x="1431" y="1087">+</text><text class="F" x="1448" y="1089">2</text><text class="F" x="1472" y="1087">→</text><text class="F" x="1506" y="1082">²</text>
<rect class="bk" x="1372" y="1106" width="53" height="26"/><text class="bt4" x="1398.5" y="1124">아랫기호</text><text class="F" x="1431" y="1127">+</text><text class="F" x="1448" y="1129">2</text><text class="F" x="1472" y="1127">→</text><text class="F" x="1506" y="1134">₂</text>
<rect class="bk" x="1372" y="1145" width="53" height="26"/><text class="bt" x="1398.5" y="1164">윗기호</text><text class="F" x="1431" y="1166">+</text><text class="F d" x="1447" y="1168">ㅏ</text><text class="F" x="1472" y="1166">→</text><text class="S" x="1506" y="1162" style="font-size:18px">「</text>
<rect class="bk" x="1372" y="1186" width="53" height="26"/><text class="bt" x="1398.5" y="1205">윗기호</text><text class="F" x="1431" y="1207">+</text><rect class="bk" x="1452" y="1186" width="53" height="26"/><text class="bt" x="1478.5" y="1205">윗기호</text><text class="F" x="1511" y="1207">+</text><text class="F d" x="1528" y="1209">ㅏ</text><text class="F" x="1552" y="1207">→</text><text class="S" x="1588" y="1203" style="font-size:18px">『</text>

<rect class="bk" x="1684" y="1066" width="53" height="26"/><text class="bt4" x="1710.5" y="1084">아랫기호</text><text class="F" x="1744" y="1087">+</text><text class="F g" x="1764" y="1089">ㅇ</text><text class="F" x="1792" y="1087">→</text><text class="C" x="1826" y="1090" style="font-size:26px">◎</text>
<rect class="bk" x="1684" y="1106" width="53" height="26"/><text class="bt" x="1710.5" y="1125">윗기호</text><text class="F" x="1744" y="1127">+</text><text class="F g" x="1764" y="1129">ㅇ</text><text class="F" x="1792" y="1127">→</text><text class="C" x="1826" y="1130" style="font-size:26px">①</text>
<rect class="bk" x="1684" y="1145" width="53" height="26"/><text class="bt" x="1710.5" y="1164">윗기호</text><text class="F" x="1744" y="1166">+</text><rect class="bk" x="1760" y="1145" width="53" height="26"/><text class="bt" x="1786.5" y="1164">윗기호</text><text class="F" x="1820" y="1166">+</text><text class="F g" x="1838" y="1168">ㅇ</text><text class="F" x="1860" y="1166">→</text><text class="C" x="1890" y="1169" style="font-size:26px">⑪</text>
</g>
</svg>
